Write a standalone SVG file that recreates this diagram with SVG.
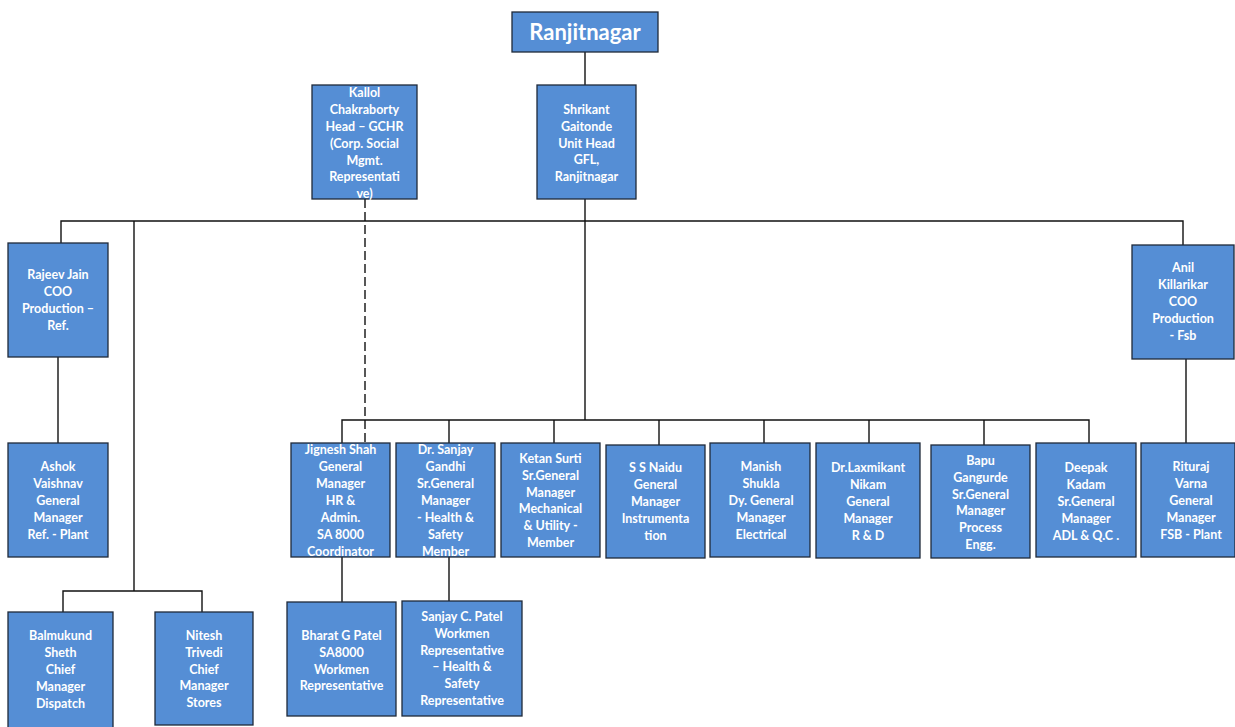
<svg xmlns="http://www.w3.org/2000/svg" width="1235" height="727" viewBox="0 0 1235 727">
  <style>
    .box { fill: #558ed5; stroke: #1f2a3a; stroke-width: 1.3; }
    .lbl { font-family: Lato, "Open Sans", "Liberation Sans", sans-serif; font-weight: bold; font-size: 12.5px; fill: #ffffff; text-anchor: middle; }
    .title { font-family: Lato, "Open Sans", "Liberation Sans", sans-serif; font-weight: bold; font-size: 22px; fill: #ffffff; text-anchor: middle; }
    .link { fill: none; stroke: #111111; stroke-width: 1.4; }
    .dash { fill: none; stroke: #111111; stroke-width: 1.4; stroke-dasharray: 9 4; }
  </style>
  <rect width="1235" height="727" fill="#ffffff"/>

  <!-- reporting lines -->
  <g id="connectors">
    <path class="link" d="M585 52 V85"/>
    <path class="link" d="M585 199 V221"/>
    <path class="link" d="M61 243 V221 H1183 V245"/>
    <path class="dash" d="M365 199 V443"/>
    <path class="link" d="M58 357 V443"/>
    <path class="link" d="M134 221 V591"/>
    <path class="link" d="M63 612 V591 H202 V612"/>
    <path class="link" d="M585 221 V420"/>
    <path class="link" d="M342 443 V420 H1089 V443"/>
    <path class="link" d="M449 420 V443"/>
    <path class="link" d="M554 420 V443"/>
    <path class="link" d="M659 420 V445"/>
    <path class="link" d="M764 420 V443"/>
    <path class="link" d="M869 420 V443"/>
    <path class="link" d="M984 420 V445"/>
    <path class="link" d="M1186 359 V445"/>
    <path class="link" d="M342 557 V602"/>
    <path class="link" d="M449 557 V601"/>
  </g>

  <g id="ranjitnagar">
    <rect class="box" x="512" y="12" width="146" height="40"/>
    <text class="title" x="585" y="40">Ranjitnagar</text>
  </g>

  <g id="kallol">
    <rect class="box" x="312" y="85" width="105" height="114"/>
    <text class="lbl" x="364.5" y="97">Kallol<tspan x="364.5" dy="17">Chakraborty</tspan><tspan x="364.5" dy="17">Head – GCHR</tspan><tspan x="364.5" dy="16.5">(Corp. Social</tspan><tspan x="364.5" dy="17">Mgmt.</tspan><tspan x="364.5" dy="16.5">Representati</tspan><tspan x="364.5" dy="16.5">ve)</tspan></text>
  </g>

  <g id="shrikant">
    <rect class="box" x="537" y="85" width="99" height="114"/>
    <text class="lbl" x="586.5" y="114">Shrikant<tspan x="586.5" dy="16.8">Gaitonde</tspan><tspan x="586.5" dy="16.8">Unit Head</tspan><tspan x="586.5" dy="16.8">GFL,</tspan><tspan x="586.5" dy="16.8">Ranjitnagar</tspan></text>
  </g>

  <g id="rajeev">
    <rect class="box" x="8" y="243" width="100" height="114"/>
    <text class="lbl" x="58" y="279">Rajeev Jain<tspan x="58" dy="17">COO</tspan><tspan x="58" dy="17">Production –</tspan><tspan x="58" dy="17">Ref.</tspan></text>
  </g>

  <g id="ashok">
    <rect class="box" x="8" y="443" width="100" height="114"/>
    <text class="lbl" x="58" y="471">Ashok<tspan x="58" dy="17">Vaishnav</tspan><tspan x="58" dy="17">General</tspan><tspan x="58" dy="17">Manager</tspan><tspan x="58" dy="16.5">Ref.  - Plant</tspan></text>
  </g>

  <g id="anil">
    <rect class="box" x="1132" y="245" width="102" height="114"/>
    <text class="lbl" x="1183" y="272">Anil<tspan x="1183" dy="17">Killarikar</tspan><tspan x="1183" dy="17">COO</tspan><tspan x="1183" dy="17">Production</tspan><tspan x="1183" dy="17">- Fsb</tspan></text>
  </g>

  <g id="jignesh">
    <rect class="box" x="291" y="443" width="99" height="114"/>
    <text class="lbl" x="340.5" y="454">Jignesh Shah<tspan x="340.5" dy="17">General</tspan><tspan x="340.5" dy="17">Manager</tspan><tspan x="340.5" dy="17">HR &amp;</tspan><tspan x="340.5" dy="17">Admin.</tspan><tspan x="340.5" dy="16.5">SA 8000</tspan><tspan x="340.5" dy="17">Coordinator</tspan></text>
  </g>

  <g id="sanjay-gandhi">
    <rect class="box" x="396" y="443" width="99" height="114"/>
    <text class="lbl" x="445.5" y="454">Dr. Sanjay<tspan x="445.5" dy="17">Gandhi</tspan><tspan x="445.5" dy="17">Sr.General</tspan><tspan x="445.5" dy="17">Manager</tspan><tspan x="445.5" dy="17">-  Health &amp;</tspan><tspan x="445.5" dy="16.5">Safety</tspan><tspan x="445.5" dy="17">Member</tspan></text>
  </g>

  <g id="ketan">
    <rect class="box" x="501" y="443" width="99" height="114"/>
    <text class="lbl" x="550.5" y="463">Ketan Surti<tspan x="550.5" dy="16.8">Sr.General</tspan><tspan x="550.5" dy="16.8">Manager</tspan><tspan x="550.5" dy="16.8">Mechanical</tspan><tspan x="550.5" dy="16.8">&amp; Utility -</tspan><tspan x="550.5" dy="16.8">Member</tspan></text>
  </g>

  <g id="naidu">
    <rect class="box" x="606" y="445" width="99" height="113"/>
    <text class="lbl" x="655.5" y="472">S S Naidu<tspan x="655.5" dy="17">General</tspan><tspan x="655.5" dy="17">Manager</tspan><tspan x="655.5" dy="17">Instrumenta</tspan><tspan x="655.5" dy="17">tion</tspan></text>
  </g>

  <g id="manish">
    <rect class="box" x="710" y="443" width="100" height="114"/>
    <text class="lbl" x="761" y="471">Manish<tspan x="761" dy="17">Shukla</tspan><tspan x="761" dy="17">Dy. General</tspan><tspan x="761" dy="17">Manager</tspan><tspan x="761" dy="16.5">Electrical</tspan></text>
  </g>

  <g id="laxmikant">
    <rect class="box" x="816" y="443" width="104" height="115"/>
    <text class="lbl" x="868" y="472">Dr.Laxmikant<tspan x="868" dy="17">Nikam</tspan><tspan x="868" dy="17">General</tspan><tspan x="868" dy="17">Manager</tspan><tspan x="868" dy="17">R &amp; D</tspan></text>
  </g>

  <g id="bapu">
    <rect class="box" x="931" y="445" width="99" height="113"/>
    <text class="lbl" x="980.5" y="465">Bapu<tspan x="980.5" dy="16.8">Gangurde</tspan><tspan x="980.5" dy="16.8">Sr.General</tspan><tspan x="980.5" dy="16.8">Manager</tspan><tspan x="980.5" dy="16.8">Process</tspan><tspan x="980.5" dy="16.8">Engg.</tspan></text>
  </g>

  <g id="deepak">
    <rect class="box" x="1036" y="443" width="100" height="114"/>
    <text class="lbl" x="1086" y="472">Deepak<tspan x="1086" dy="17">Kadam</tspan><tspan x="1086" dy="17">Sr.General</tspan><tspan x="1086" dy="17">Manager</tspan><tspan x="1086" dy="16.5">ADL &amp; Q.C .</tspan></text>
  </g>

  <g id="rituraj">
    <rect class="box" x="1141" y="443" width="94" height="114"/>
    <text class="lbl" x="1191" y="471">Rituraj<tspan x="1191" dy="17">Varna</tspan><tspan x="1191" dy="17">General</tspan><tspan x="1191" dy="17">Manager</tspan><tspan x="1191" dy="16.5">FSB - Plant</tspan></text>
  </g>

  <g id="balmukund">
    <rect class="box" x="8" y="612" width="105" height="118"/>
    <text class="lbl" x="60.5" y="640">Balmukund<tspan x="60.5" dy="17">Sheth</tspan><tspan x="60.5" dy="17">Chief</tspan><tspan x="60.5" dy="17">Manager</tspan><tspan x="60.5" dy="17">Dispatch</tspan></text>
  </g>

  <g id="nitesh">
    <rect class="box" x="155" y="612" width="98" height="113"/>
    <text class="lbl" x="204" y="640">Nitesh<tspan x="204" dy="16.8">Trivedi</tspan><tspan x="204" dy="16.8">Chief</tspan><tspan x="204" dy="16.8">Manager</tspan><tspan x="204" dy="16.8">Stores</tspan></text>
  </g>

  <g id="bharat">
    <rect class="box" x="287" y="602" width="109" height="114"/>
    <text class="lbl" x="341.5" y="640">Bharat G Patel<tspan x="341.5" dy="16.8">SA8000</tspan><tspan x="341.5" dy="16.8">Workmen</tspan><tspan x="341.5" dy="16.8">Representative</tspan></text>
  </g>

  <g id="sanjay-patel">
    <rect class="box" x="402" y="601" width="120" height="115"/>
    <text class="lbl" x="462" y="621">Sanjay C. Patel<tspan x="462" dy="16.8">Workmen</tspan><tspan x="462" dy="16.8">Representative</tspan><tspan x="462" dy="16.8">– Health &amp;</tspan><tspan x="462" dy="16.8">Safety</tspan><tspan x="462" dy="16.8">Representative</tspan></text>
  </g>
</svg>
